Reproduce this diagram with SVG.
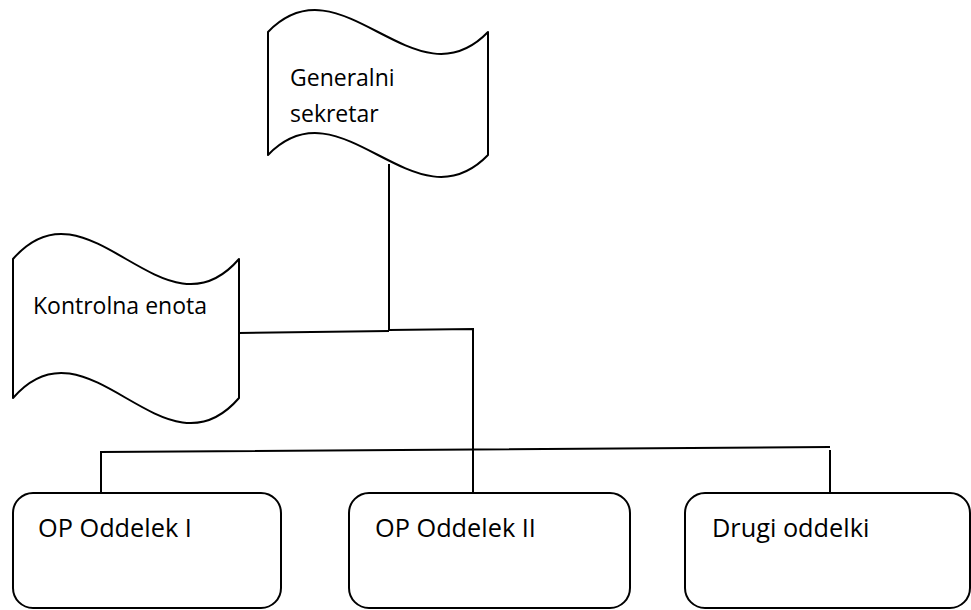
<svg xmlns="http://www.w3.org/2000/svg" width="971" height="610" viewBox="0 0 971 610">
<style>
.shape{fill:#fff;stroke:#000;stroke-width:2;stroke-linejoin:round}
.conn{fill:none;stroke:#000;stroke-width:2}
.lbl{font-family:"Open Sans","Liberation Sans",sans-serif;font-size:23px;fill:#000}
.blbl{font-family:"Open Sans","Liberation Sans",sans-serif;font-size:25.3px;fill:#000}
</style>
<rect width="971" height="610" fill="#fff"/>
<g id="connectors">
<polyline class="conn" points="389,164 389,331"/>
<polyline class="conn" points="239,333 389,331"/>
<polyline class="conn" points="389,330 473,329 473,493"/>
<polyline class="conn" points="101,493 101,452 830,447"/>
<polyline class="conn" points="830,450 830,493"/>
</g>
<g id="generalni-sekretar">
<path class="shape" d="M268,32 C341.3,-44 414.7,108 488,32 L488,155 C414.7,231 341.3,79 268,155 Z"/>
<text class="lbl" x="290" y="86">Generalni</text>
<text class="lbl" x="290" y="122">sekretar</text>
</g>
<g id="kontrolna-enota">
<path class="shape" d="M13,259 C88.3,172 163.7,346 239,259 L239,398 C163.7,485 88.3,311 13,398 Z"/>
<text class="lbl" x="33" y="314">Kontrolna enota</text>
</g>
<g id="op-oddelek-1">
<rect class="shape" x="13" y="493" width="268" height="115" rx="20"/>
<text class="blbl" x="38" y="537">OP Oddelek I</text>
</g>
<g id="op-oddelek-2">
<rect class="shape" x="349" y="493" width="281" height="115" rx="20"/>
<text class="blbl" x="375" y="537">OP Oddelek II</text>
</g>
<g id="drugi-oddelki">
<rect class="shape" x="685" y="493" width="285" height="115" rx="20"/>
<text class="blbl" x="712" y="537">Drugi oddelki</text>
</g>
</svg>
